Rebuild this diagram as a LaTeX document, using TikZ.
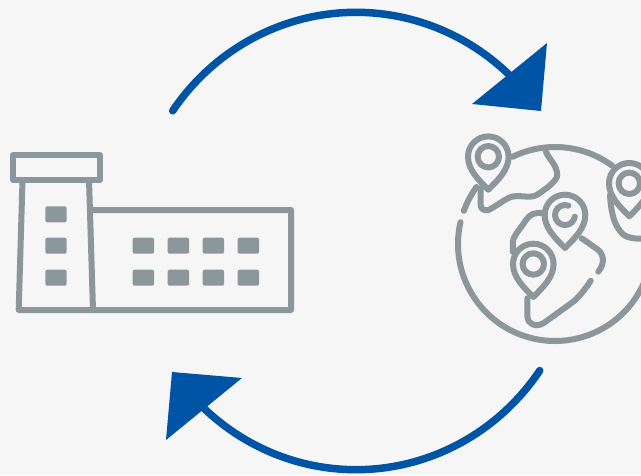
\documentclass[tikz,border=0pt]{standalone}
\usetikzlibrary{positioning}
\definecolor{bgcol}{HTML}{F6F6F6}
\definecolor{iconcol}{HTML}{8C979C}
\definecolor{flowcol}{HTML}{0054A6}
\tikzset{
	icon/.style={draw=iconcol, line width=6pt, line cap=round, line join=round},
	bldg/.style={draw=iconcol, line width=6pt, line join=round},
	window/.style={fill=iconcol, rounded corners=2pt},
	flow/.style={draw=flowcol, line width=7.5pt, line cap=round},
	flowtip/.style={fill=flowcol},
	pics/mappin/.style={code={
		\path[icon, fill=bgcol] (0,33) .. controls (-10,23) and (-20.3,13) .. (-20.3,0)
			arc (180:360:20.3) .. controls (20.3,13) and (10,23) .. (0,33) -- cycle;
	}}
}
\begin{document}
\begin{tikzpicture}[x=1pt, y=-1pt]
	\clip (0,0) rectangle (641,475);
	\fill[bgcol] (0,0) rectangle (641,475);
	% arrows
	\coordinate (orbit) at (356,241);
	\draw[flow] (orbit) ++(-145.3:223 and 228.7) arc (-145.3:-43:223 and 228.7);
	\fill[flowtip] (547,43) -- (472,104) -- (541,111) -- cycle;
	\draw[flow] (orbit) ++(34.5:223 and 228.7) arc (34.5:134:223 and 228.7);
	\fill[flowtip] (172,372) -- (242,378) -- (166,440) -- cycle;
	% factory
	\draw[bldg] (13,155) rectangle (100,180);
	\draw[bldg] (22.5,180) -- (18.7,310) -- (291,310) -- (291,210) -- (91,210);
	\draw[bldg] (89,180) -- (93,310);
	\foreach \y in {206.3,237.7,269.7}
		\fill[window] (45.3,\y) rectangle ++(21.4,16);
	\foreach \x in {132.7,167.7,202.7,237.7}
		\foreach \y in {237.7,269.7}
			\fill[window] (\x,\y) rectangle ++(21.4,16);
	% globe
	\coordinate (gc) at (555,244);
	\draw[icon] (gc) ++(-167:97) arc (-167:-360:97);
	\draw[icon] (gc) ++(-160:97) arc (-160:-144:97);
	\draw[icon] (gc) ++(-116:97) arc (-116:-54:97);
	% land
	\draw[icon] (546,151.7) .. controls (548,158) and (557,165) .. (557.3,175)
		.. controls (557,181) and (546,189) .. (536.7,195)
		.. controls (530,199) and (518,194) .. (510,197.3)
		.. controls (502,201) and (495,207) .. (488.3,210)
		.. controls (484,211) and (480.7,209) .. (480.7,205) -- (480.7,188.3);
	\draw[icon] (543.3,213.3) .. controls (535,212) and (530,214) .. (526,220)
		.. controls (521,228) and (514,235) .. (513,241) -- (512.7,251.7);
	\draw[icon] (527.3,298.3) -- (527.3,316.7)
		.. controls (527.3,323) and (535,328) .. (543.3,323.3)
		-- (573.3,301.7) .. controls (580,296) and (586,288) .. (590.7,280.7);
	\draw[icon] (581.7,238.3) -- (597,249) .. controls (603,253) and (606,262) .. (598.3,271.7);
	\draw[icon] (610,195) .. controls (611,210) and (613,222) .. (620,231)
		.. controls (625,238) and (633,239) .. (645,238.5);
	% pins
	\path (488.3,156.7) pic (pina) {mappin};
	\path (629.3,183.3) pic (pinb) {mappin};
	\path (565,215) pic (pinc) {mappin};
	\path (533.3,264) pic (pind) {mappin};
	\draw[icon] (488.3,156.7) circle (10.7);
	\draw[icon] (629.3,183.3) circle (10.7);
	\draw[icon] (533.3,264) circle (10.7);
	\draw[icon] (565,215) ++(-70:10) arc (-70:-350:10);
\end{tikzpicture}
\end{document}
